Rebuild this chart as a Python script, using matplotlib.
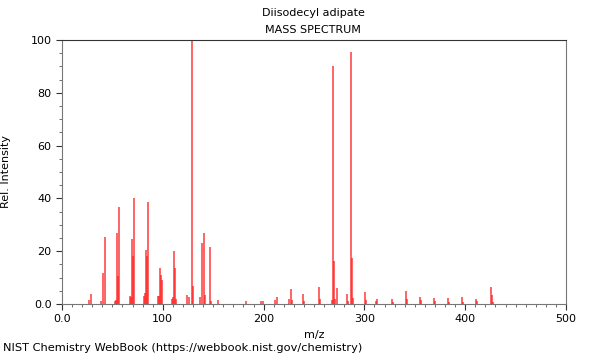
import matplotlib
matplotlib.use("Agg")
import matplotlib.pyplot as plt
import numpy as np

# peaks (m/z, relative intensity)
mz = [27, 29, 39, 41, 43, 53, 54, 55, 56, 57, 67, 68, 69, 70, 71,
      81, 82, 83, 84, 85, 95, 96, 97, 98, 99, 109, 110, 111, 112, 113,
      124, 126, 129, 130, 137, 139, 141, 142, 147, 148, 155, 183, 197, 199,
      211, 213, 225, 227, 228, 239, 240, 255, 256, 268, 269, 270, 271, 273,
      283, 284, 287, 288, 289, 301, 302, 312, 313, 327, 328, 341, 342,
      355, 356, 369, 370, 383, 384, 397, 398, 411, 412, 426, 427, 428]
intensity = [1.5, 3.7, 1.2, 11.7, 25.5, 1.0, 1.5, 26.8, 10.5, 36.6, 3.0, 2.5, 24.5, 18.0, 40.3,
             3.0, 4.0, 20.4, 18.2, 38.8, 3.0, 3.0, 13.5, 10.8, 8.9, 2.0, 2.5, 20.2, 13.5, 2.0,
             3.4, 2.5, 100.0, 6.8, 2.8, 23.0, 27.0, 3.4, 21.7, 1.0, 1.5, 1.0, 1.0, 1.0,
             1.5, 2.8, 1.8, 5.5, 1.5, 3.6, 1.0, 6.6, 2.0, 1.5, 90.3, 16.3, 2.0, 5.9,
             3.7, 1.0, 95.6, 17.3, 2.1, 4.5, 1.5, 1.0, 1.8, 1.8, 0.8, 4.9, 2.0,
             2.5, 1.5, 2.3, 1.0, 2.3, 0.8, 2.5, 0.8, 1.9, 1.0, 6.6, 3.4, 0.8]

title = "Diisodecyl adipate"
x_ticks = [0, 100, 200, 300, 400, 500]
x_labels = ["0.0", "100", "200", "300", "400", "500"]
y_ticks = [0, 20, 40, 60, 80, 100]
y_labels = ["0.0", "20", "40", "60", "80", "100"]

fig = plt.figure(figsize=(6, 3.6), dpi=100)
ax = fig.add_axes([0.1033, 0.1556, 0.84, 0.7333])

ax.vlines(mz, 0, intensity, colors="#ff2020", alpha=0.75, linewidth=1.3)

ax.set_xlim(0, 500)
ax.set_ylim(0, 100)
ax.set_xticks(x_ticks)
ax.set_xticklabels(x_labels)
ax.set_yticks(y_ticks)
ax.set_yticklabels(y_labels)
ax.set_xticks(np.arange(0, 501, 10), minor=True)
ax.set_yticks(np.arange(0, 101, 5), minor=True)
ax.tick_params(which="major", length=4, width=0.8, labelsize=8, color="#333333")
ax.tick_params(which="minor", length=2, width=0.6, color="#555555")

for side in ["left", "bottom", "right"]:
    ax.spines[side].set_color("#777777")
ax.spines["top"].set_color("#333333")

ax.set_xlabel("m/z", fontsize=8)
ax.set_ylabel("Rel. Intensity", fontsize=8)
ax.yaxis.set_label_coords(-0.102, 0.5)

fig.text(0.522, 0.963, title, ha="center", va="center", fontsize=8)
fig.text(0.522, 0.916, "MASS SPECTRUM", ha="center", va="center", fontsize=8)
fig.text(0.005, 0.02, "NIST Chemistry WebBook (https://webbook.nist.gov/chemistry)",
         ha="left", va="bottom", fontsize=8.2)

fig.savefig("out.png", dpi=100)
